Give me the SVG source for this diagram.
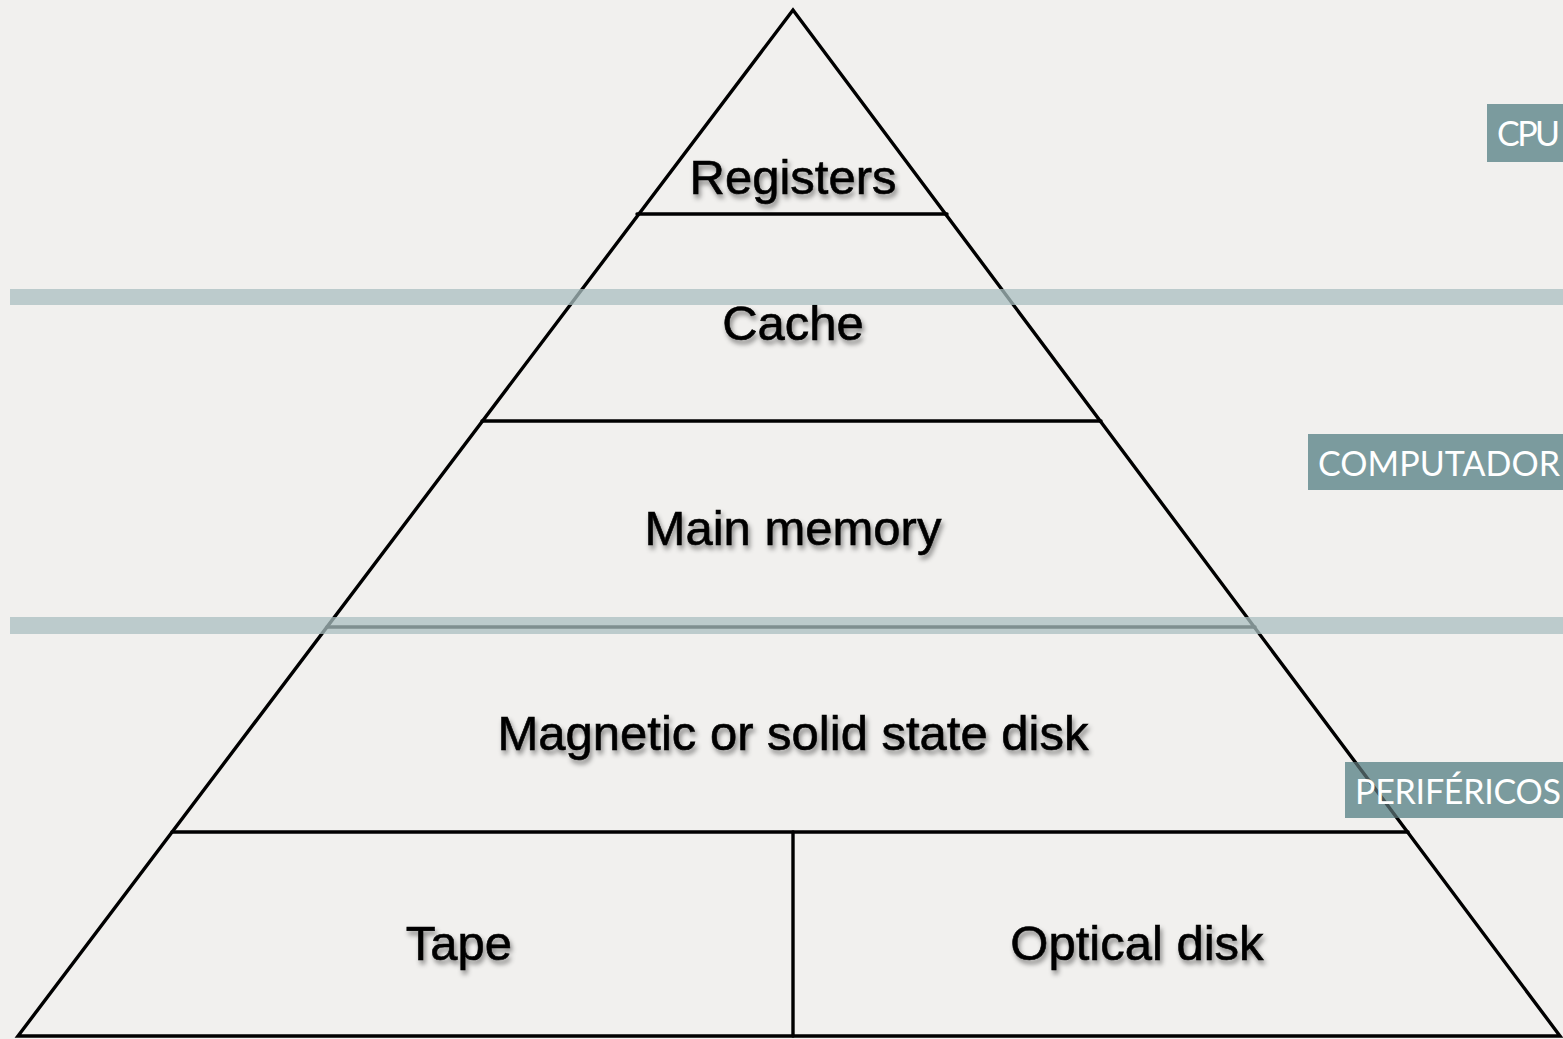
<svg xmlns="http://www.w3.org/2000/svg" width="1563" height="1039" viewBox="0 0 1563 1039">
  <defs>
    <filter id="softShadow" x="-10%" y="-30%" width="120%" height="160%">
      <feDropShadow dx="2" dy="4" stdDeviation="2.5" flood-color="#000" flood-opacity="0.45"/>
    </filter>
  </defs>
  <style>
    .edge { stroke: #000; stroke-width: 3.4; fill: none; stroke-linecap: round; stroke-linejoin: miter; }
    .tier { font-family: "Liberation Sans", Arial, sans-serif; font-size: 49px; fill: #000; stroke: #000; stroke-width: 0.6; text-anchor: middle; filter: url(#softShadow); }
    .band { fill: #a9bfc0; opacity: 0.75; }
    .tag { fill: #7b9b9e; }
    .tagVeil { fill: #7b9b9e; opacity: 0.55; }
    .tagText { font-family: "Lato", "Open Sans", sans-serif; font-size: 34px; fill: #fff; letter-spacing: 1px; }
  </style>

  <rect width="1563" height="1039" fill="#f1f0ee"/>

  <!-- the lowest tag sits under the pyramid edge -->
  <rect class="tag" x="1345" y="762" width="218" height="56"/>

  <!-- pyramid outline and tier dividers -->
  <g id="connectors">
    <polygon class="edge" points="793,10 18,1036 1560,1036"/>
    <line class="edge" x1="637" y1="214" x2="947" y2="214"/>
    <line class="edge" x1="482" y1="421" x2="1101" y2="421"/>
    <line class="edge" x1="327" y1="627" x2="1255" y2="627"/>
    <line class="edge" x1="172" y1="832" x2="1408" y2="832"/>
    <line class="edge" x1="793" y1="832" x2="793" y2="1036"/>
  </g>

  <!-- tiers -->
  <g id="registers"><text class="tier" x="793" y="194">Registers</text></g>
  <g id="cache"><text class="tier" x="793" y="340">Cache</text></g>
  <g id="main-memory"><text class="tier" x="793" y="545">Main memory</text></g>
  <g id="disk"><text class="tier" x="793" y="750">Magnetic or solid state disk</text></g>
  <g id="tape"><text class="tier" x="459" y="960">Tape</text></g>
  <g id="optical-disk"><text class="tier" x="1137" y="960">Optical disk</text></g>

  <!-- boundary bands -->
  <g id="bands">
    <rect class="band" x="10" y="289" width="1553" height="16"/>
    <rect class="band" x="10" y="617" width="1553" height="17"/>
  </g>

  <!-- side tags -->
  <g id="tag-cpu">
    <rect class="tag" x="1487" y="104" width="76" height="58"/>
    <text class="tagText" x="1497" y="146" textLength="64">CPU</text>
  </g>
  <g id="tag-computador">
    <rect class="tag" x="1308" y="434" width="255" height="56"/>
    <text class="tagText" x="1318" y="476" textLength="243">COMPUTADOR</text>
  </g>
  <g id="tag-perifericos">
    <rect class="tagVeil" x="1345" y="762" width="218" height="56"/>
    <text class="tagText" x="1355" y="804" textLength="207">PERIFÉRICOS</text>
  </g>
</svg>
